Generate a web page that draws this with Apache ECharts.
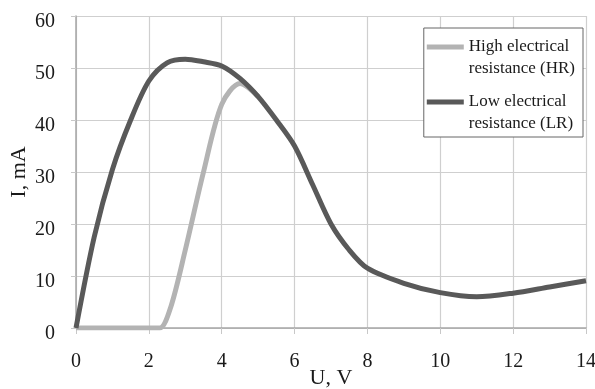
<!DOCTYPE html>
<html>
<head>
<meta charset="utf-8">
<script src="https://cdn.jsdelivr.net/npm/echarts@6/dist/echarts.min.js"></script>
<style>
html,body{margin:0;padding:0;background:#fff;}
#chart{width:595px;height:389px;}
</style>
</head>
<body>
<div id="chart"></div>
<script>
// Data
var lrU = [0, 0.5, 1, 1.5, 2, 2.5, 3, 3.5, 4, 4.5, 5, 5.5, 6, 6.5, 7, 7.5, 8, 9, 10, 11, 12, 13, 14];
var lrI = [0, 17.5, 30.5, 40, 47.5, 51, 51.7, 51.2, 50.4, 48, 44.5, 40, 35, 27.5, 20, 15, 11.5, 8.6, 6.8, 6, 6.7, 7.9, 9.1];
var hrU = [0, 1, 2, 2.3, 2.6, 3, 3.5, 4, 4.5, 5];
var hrI = [0, 0, 0, 0, 4, 15, 30, 43, 47, 44.5];
var xTicks = { min: 0, max: 14, interval: 2 };
var yTicks = { min: 0, max: 60, interval: 10 };
var hrName = 'High electrical\nresistance (HR)';
var lrName = 'Low electrical\nresistance (LR)';
var xName = 'U, V';
var yName = 'I, mA';

function pairs(xs, ys) { return xs.map(function (x, i) { return [x, ys[i]]; }); }

var font = 'Liberation Serif';
var chart = echarts.init(document.getElementById('chart'), null, { renderer: 'canvas' });
chart.setOption({
  animation: false,
  backgroundColor: '#ffffff',
  grid: { left: 76, right: 9, top: 16, bottom: 61, containLabel: false, outerBoundsMode: 'none' },
  xAxis: {
    type: 'value', min: xTicks.min, max: xTicks.max, interval: xTicks.interval,
    name: xName, nameLocation: 'middle', nameGap: 39, nameMoveOverlap: false,
    nameTextStyle: { fontFamily: font, fontSize: 22, color: '#1a1a1a' },
    axisLine: { show: true, lineStyle: { color: '#a6a6a6', width: 1.5 } },
    axisTick: { show: true, length: 6, lineStyle: { color: '#c8c8c8' } },
    axisLabel: { fontFamily: font, fontSize: 20, color: '#1a1a1a', margin: 24 },
    splitLine: { show: true, lineStyle: { color: '#cfcfcf', width: 1.2 } }
  },
  yAxis: {
    type: 'value', min: yTicks.min, max: yTicks.max, interval: yTicks.interval,
    name: yName, nameLocation: 'middle', nameGap: 46, nameRotate: 90, nameMoveOverlap: false,
    nameTextStyle: { fontFamily: font, fontSize: 22, color: '#1a1a1a' },
    axisLine: { show: true, lineStyle: { color: '#a6a6a6', width: 1.5 } },
    axisTick: { show: true, length: 5, lineStyle: { color: '#c8c8c8' } },
    axisLabel: { fontFamily: font, fontSize: 20, color: '#1a1a1a', margin: 21, verticalAlign: 'top', lineHeight: 12 },
    splitLine: { show: true, lineStyle: { color: '#cfcfcf', width: 1.2 } }
  },
  legend: {
    orient: 'vertical', right: 12, top: 28,
    padding: [-14, 8, 2, 3], itemGap: -11,
    itemWidth: 37, itemHeight: 5, icon: 'rect',
    backgroundColor: '#ffffff', borderColor: '#666666', borderWidth: 1,
    formatter: function (n) { return '\n' + n; },
    textStyle: { fontFamily: font, fontSize: 17, lineHeight: 22, color: '#1a1a1a' },
    data: [hrName, lrName]
  },
  series: [
    {
      name: hrName, type: 'line', data: pairs(hrU, hrI), smooth: 0.3,
      symbol: 'none', lineStyle: { color: '#b3b3b3', width: 5 }, itemStyle: { color: '#b3b3b3' }, z: 2
    },
    {
      name: lrName, type: 'line', data: pairs(lrU, lrI), smooth: 0.3,
      symbol: 'none', lineStyle: { color: '#595959', width: 5 }, itemStyle: { color: '#595959' }, z: 3
    }
  ]
});
</script>
</body>
</html>
